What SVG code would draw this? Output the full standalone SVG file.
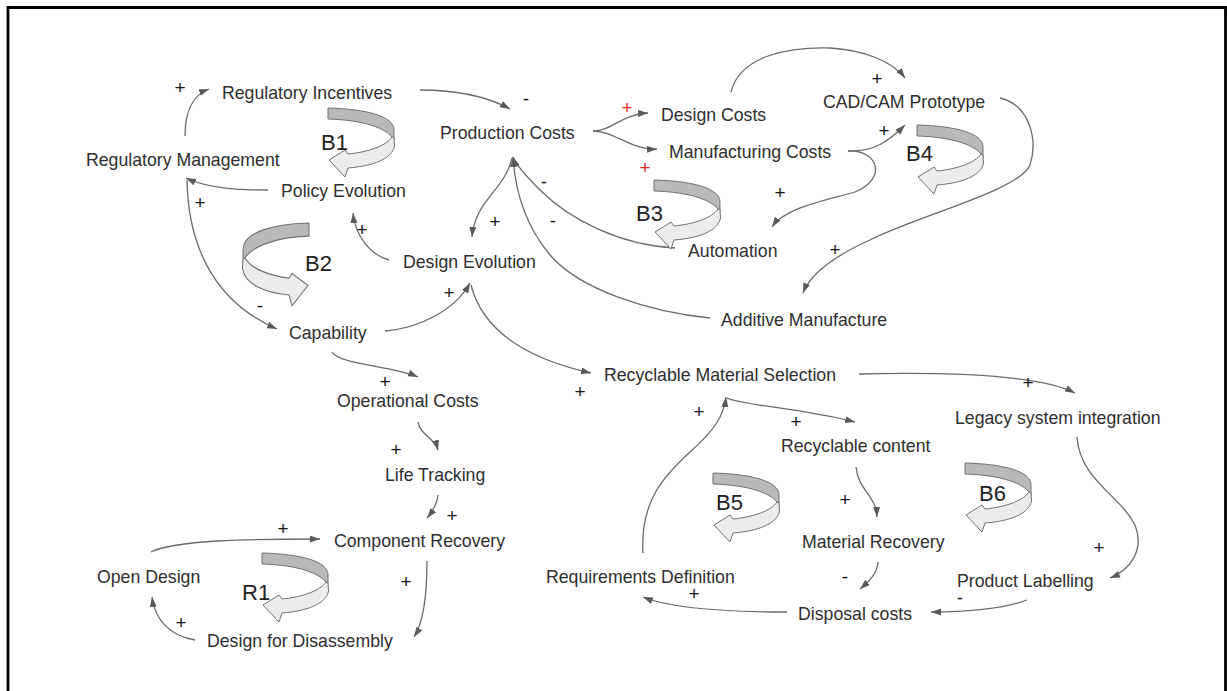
<svg xmlns="http://www.w3.org/2000/svg" xmlns:xlink="http://www.w3.org/1999/xlink" width="1227" height="691" viewBox="0 0 1227 691">
  <style>
    .node { font-family: "Liberation Sans", Arial, sans-serif; font-size: 17.7px; fill: #2e2e2e; }
    .sign { font-family: "Liberation Sans", Arial, sans-serif; font-size: 19px; fill: #151515; text-anchor: middle; }
    .red { fill: #e8262a; }
    .loopname { font-family: "Liberation Sans", Arial, sans-serif; font-size: 22px; fill: #222; }
    .link { fill: none; stroke: #6b6b6b; stroke-width: 1.3; marker-end: url(#head); }
    .back { fill: #b9b9b9; stroke: #707070; stroke-width: 1; stroke-linejoin: round; }
    .front { fill: #ececec; stroke: #707070; stroke-width: 1; stroke-linejoin: round; }
  </style>
  <defs>
    <marker id="head" markerUnits="userSpaceOnUse" markerWidth="11" markerHeight="8" refX="10" refY="3.5" orient="auto">
      <path d="M0,0 L10,3.5 L0,7 Z" fill="#5a5a5a"/>
    </marker>
    <!-- ribbon loop symbol, turning back towards the left -->
    <g id="loop">
      <path class="back" d="M0,0 C38,1 66,8 66,22 L66,32 C60,20 35,12 0,11 Z"/>
      <path class="front" d="M64,29 L66,30 L66.5,38 C64,51 45,58 20,60 L17,69 L1,52 L17,42 L20,46 C40,44 58,38 64,29 Z"/>
    </g>
  </defs>

  <rect width="1227" height="691" fill="#fff"/>
  <path d="M8,691 V7.5 H1225.5 V691" fill="none" stroke="#000" stroke-width="2.8"/>

  <g id="connectors">
    <path class="link" d="M185,136 C185,112 193,95 209,89"/>
    <path class="link" d="M420,90 C460,90 490,98 510,109"/>
    <path class="link" d="M593,131 C612,131 622,114 648,113"/>
    <path class="link" d="M593,131 C615,131 630,150 657,149"/>
    <path class="link" d="M731,92 C740,55 790,47 830,48 C865,50 893,62 905,78"/>
    <path class="link" d="M848,151 C875,152 890,140 905,125"/>
    <path class="link" d="M848,151 C878,150 888,178 855,192 C820,202 785,208 772,227"/>
    <path class="link" d="M1000,98 C1030,105 1038,140 1030,165 C1020,190 920,215 870,240 C830,258 810,275 803,293"/>
    <path class="link" d="M512,158 C505,190 475,200 472,237"/>
    <path class="link" d="M675,248 C620,245 570,220 540,190 C525,175 516,165 513,157"/>
    <path class="link" d="M710,318 C650,312 580,290 550,255 C525,225 515,190 513,157"/>
    <path class="link" d="M389,260 C370,255 355,235 353,213"/>
    <path class="link" d="M268,190 C230,190 205,187 186,178"/>
    <path class="link" d="M187,180 C188,240 210,300 277,329"/>
    <path class="link" d="M385,331 C420,328 455,310 470,283"/>
    <path class="link" d="M471,285 C480,320 510,355 591,373"/>
    <path class="link" d="M332,352 C340,365 390,365 418,377"/>
    <path class="link" d="M418,422 C420,435 435,438 438,450"/>
    <path class="link" d="M438,495 C437,505 432,512 427,518"/>
    <path class="link" d="M151,552 C175,540 250,539 320,539"/>
    <path class="link" d="M427,561 C427,590 425,620 414,637"/>
    <path class="link" d="M195,640 C170,636 155,620 152,597"/>
    <path class="link" d="M859,374 C950,372 1040,375 1075,393"/>
    <path class="link" d="M727,398 C740,405 800,408 855,422"/>
    <path class="link" d="M643,553 C640,500 665,475 690,452 C715,430 724,415 726,397"/>
    <path class="link" d="M856,467 C858,490 876,495 877,517"/>
    <path class="link" d="M878,562 C877,575 868,582 860,589"/>
    <path class="link" d="M787,612 C720,612 670,608 643,597"/>
    <path class="link" d="M1077,437 C1080,480 1120,495 1135,525 C1145,550 1130,570 1110,578"/>
    <path class="link" d="M1027,600 C1000,610 960,612 931,612"/>
  </g>

  <g id="polarities" opacity="0.99">
    <text class="sign" x="180" y="94">+</text>
    <text class="sign" x="526" y="105">-</text>
    <text class="sign red" x="627" y="114">+</text>
    <text class="sign red" x="645" y="174">+</text>
    <text class="sign" x="877" y="85">+</text>
    <text class="sign" x="884" y="137">+</text>
    <text class="sign" x="780" y="199">+</text>
    <text class="sign" x="835" y="256">+</text>
    <text class="sign" x="544" y="188">-</text>
    <text class="sign" x="495" y="228">+</text>
    <text class="sign" x="553" y="227">-</text>
    <text class="sign" x="362" y="236">+</text>
    <text class="sign" x="200" y="209">+</text>
    <text class="sign" x="260" y="312">-</text>
    <text class="sign" x="449" y="299">+</text>
    <text class="sign" x="580" y="398">+</text>
    <text class="sign" x="385" y="388">+</text>
    <text class="sign" x="396" y="456">+</text>
    <text class="sign" x="452" y="522">+</text>
    <text class="sign" x="283" y="535">+</text>
    <text class="sign" x="406" y="588">+</text>
    <text class="sign" x="181" y="629">+</text>
    <text class="sign" x="1028" y="389">+</text>
    <text class="sign" x="699" y="418">+</text>
    <text class="sign" x="796" y="428">+</text>
    <text class="sign" x="845" y="506">+</text>
    <text class="sign" x="845" y="583">-</text>
    <text class="sign" x="694" y="600">+</text>
    <text class="sign" x="1099" y="554">+</text>
    <text class="sign" x="960" y="604">-</text>
  </g>

  <g id="loops">
    <g id="loop-B1"><use xlink:href="#loop" href="#loop" transform="translate(328,108)"/><text class="loopname" x="321" y="150">B1</text></g>
    <g id="loop-B2"><use xlink:href="#loop" href="#loop" transform="translate(309,223) scale(-1,1.2)"/><text class="loopname" x="305" y="271">B2</text></g>
    <g id="loop-B3"><use xlink:href="#loop" href="#loop" transform="translate(654,180)"/><text class="loopname" x="636" y="221">B3</text></g>
    <g id="loop-B4"><use xlink:href="#loop" href="#loop" transform="translate(917,125)"/><text class="loopname" x="906" y="161">B4</text></g>
    <g id="loop-B5"><use xlink:href="#loop" href="#loop" transform="translate(713,473)"/><text class="loopname" x="716" y="510">B5</text></g>
    <g id="loop-B6"><use xlink:href="#loop" href="#loop" transform="translate(965,463)"/><text class="loopname" x="979" y="501">B6</text></g>
    <g id="loop-R1"><use xlink:href="#loop" href="#loop" transform="translate(262,553)"/><text class="loopname" x="242" y="600">R1</text></g>
  </g>

  <g id="n-regulatory-incentives"><text class="node" x="222" y="99">Regulatory Incentives</text></g>
  <g id="n-regulatory-management"><text class="node" x="86" y="166">Regulatory Management</text></g>
  <g id="n-policy-evolution"><text class="node" x="281" y="197">Policy Evolution</text></g>
  <g id="n-production-costs"><text class="node" x="440" y="139">Production Costs</text></g>
  <g id="n-design-costs"><text class="node" x="661" y="121">Design Costs</text></g>
  <g id="n-manufacturing-costs"><text class="node" x="669" y="158">Manufacturing Costs</text></g>
  <g id="n-cad-cam-prototype"><text class="node" x="823" y="108">CAD/CAM Prototype</text></g>
  <g id="n-automation"><text class="node" x="688" y="257">Automation</text></g>
  <g id="n-design-evolution"><text class="node" x="403" y="268">Design Evolution</text></g>
  <g id="n-capability"><text class="node" x="289" y="339">Capability</text></g>
  <g id="n-additive-manufacture"><text class="node" x="721" y="326">Additive Manufacture</text></g>
  <g id="n-recyclable-material-selection"><text class="node" x="604" y="381">Recyclable Material Selection</text></g>
  <g id="n-legacy-system-integration"><text class="node" x="955" y="424">Legacy system integration</text></g>
  <g id="n-operational-costs"><text class="node" x="337" y="407">Operational Costs</text></g>
  <g id="n-recyclable-content"><text class="node" x="781" y="452">Recyclable content</text></g>
  <g id="n-life-tracking"><text class="node" x="385" y="481">Life Tracking</text></g>
  <g id="n-component-recovery"><text class="node" x="334" y="547">Component Recovery</text></g>
  <g id="n-material-recovery"><text class="node" x="802" y="548">Material Recovery</text></g>
  <g id="n-open-design"><text class="node" x="97" y="583">Open Design</text></g>
  <g id="n-requirements-definition"><text class="node" x="546" y="583">Requirements Definition</text></g>
  <g id="n-product-labelling"><text class="node" x="957" y="587">Product Labelling</text></g>
  <g id="n-disposal-costs"><text class="node" x="798" y="620">Disposal costs</text></g>
  <g id="n-design-for-disassembly"><text class="node" x="207" y="647">Design for Disassembly</text></g>
</svg>
